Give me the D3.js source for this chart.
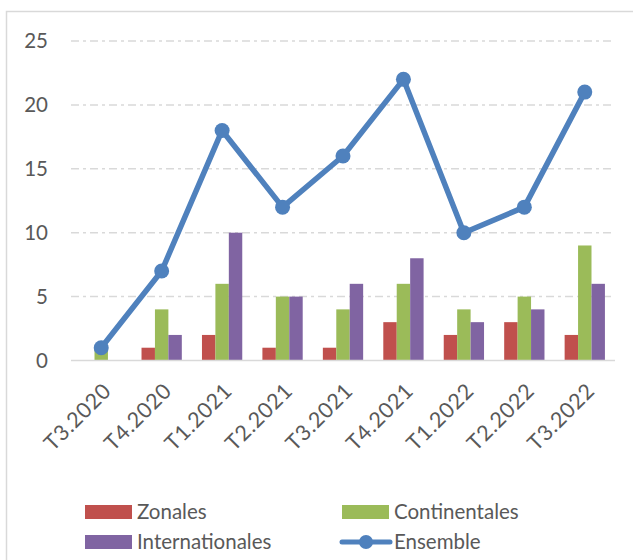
<!DOCTYPE html>
<html><head><meta charset="utf-8">
<script src="https://cdn.jsdelivr.net/npm/d3@7"></script>
<style>html,body{margin:0;padding:0;background:#fff;}svg{display:block;}</style>
</head><body>
<svg id="c" width="633" height="560"></svg>
<script>
const categories = ["T3.2020","T4.2020","T1.2021","T2.2021","T3.2021","T4.2021","T1.2022","T2.2022","T3.2022"];
const zonales = [0,1,2,1,1,3,2,3,2];
const continentales = [1,4,6,5,4,6,4,5,9];
const internationales = [0,2,10,5,6,8,3,4,6];
const ensemble = [1,7,18,12,16,22,10,12,21];
const yTicks = [0,5,10,15,20,25];
const barSeries = [
  {name:"Zonales", values:zonales, color:"#c0504d"},
  {name:"Continentales", values:continentales, color:"#9bbb59"},
  {name:"Internationales", values:internationales, color:"#8064a2"}
];
const lineColor = "#4f81bd";
const font = "Lato, 'Open Sans', sans-serif";
const textColor = "#595959";

const svg = d3.select("#c");
// chart border
svg.append("rect").attr("x",6.5).attr("y",11.5).attr("width",640).attr("height",560)
  .attr("fill","none").attr("stroke","#d9d9d9").attr("stroke-width",1.5);

const x = d3.scaleBand().domain(categories).range([71,615]);
const y = d3.scaleLinear().domain([0,25]).range([360.5,41]);
const groupW = x.bandwidth()/1.5;
const xs = d3.scaleBand().domain(barSeries.map(s=>s.name)).range([0,groupW]);

// gridlines
svg.append("g").selectAll("line").data(yTicks.filter(t=>t>0)).join("line")
  .attr("x1",71).attr("x2",615).attr("y1",d=>y(d)).attr("y2",d=>y(d))
  .attr("stroke","#d9d9d9").attr("stroke-width",1.5).attr("stroke-dasharray","8,4,3,4");

// y labels
svg.append("g").selectAll("text").data(yTicks).join("text")
  .attr("x",48).attr("y",d=>y(d)).attr("dy","0.35em").attr("text-anchor","end")
  .attr("font-family",font).attr("font-size",20.5).attr("fill",textColor).text(d=>d);

// bars
barSeries.forEach(s=>{
  svg.append("g").selectAll("rect").data(s.values.map((v,i)=>({v,c:categories[i]}))).join("rect")
    .attr("x",d=>x(d.c)+(x.bandwidth()-groupW)/2+xs(s.name))
    .attr("width",xs.bandwidth())
    .attr("y",d=>y(d.v)).attr("height",d=>y(0)-y(d.v))
    .attr("fill",s.color);
});

// baseline
svg.append("line").attr("x1",71).attr("x2",615).attr("y1",y(0)).attr("y2",y(0))
  .attr("stroke","#d9d9d9").attr("stroke-width",1.5);

// x labels
svg.append("g").selectAll("text").data(categories).join("text")
  .attr("transform",d=>`translate(${x(d)+x.bandwidth()/2+6},${387}) rotate(-45)`)
  .attr("text-anchor","end").attr("dy","0.35em").attr("letter-spacing","0.6")
  .attr("font-family",font).attr("font-size",21.5).attr("fill",textColor).text(d=>d);

// line
const cx = d=>x(d)+x.bandwidth()/2;
const line = d3.line().x((d,i)=>cx(categories[i])).y(d=>y(d));
svg.append("path").datum(ensemble).attr("d",line).attr("fill","none")
  .attr("stroke",lineColor).attr("stroke-width",5.5).attr("stroke-linejoin","round");
svg.append("g").selectAll("circle").data(ensemble).join("circle")
  .attr("cx",(d,i)=>cx(categories[i])).attr("cy",d=>y(d)).attr("r",7.5).attr("fill",lineColor);

// legend
const legendItems = [
  {name:"Zonales", color:"#c0504d", type:"bar", x:85, y:512},
  {name:"Continentales", color:"#9bbb59", type:"bar", x:342, y:512},
  {name:"Internationales", color:"#8064a2", type:"bar", x:85, y:542},
  {name:"Ensemble", color:lineColor, type:"line", x:342, y:542}
];
const lg = svg.append("g");
legendItems.forEach(it=>{
  if(it.type==="bar"){
    lg.append("rect").attr("x",it.x).attr("y",it.y-7).attr("width",47).attr("height",14).attr("fill",it.color);
  } else {
    lg.append("line").attr("x1",it.x).attr("x2",it.x+48).attr("y1",it.y).attr("y2",it.y)
      .attr("stroke",it.color).attr("stroke-width",5).attr("stroke-linecap","round");
    lg.append("circle").attr("cx",it.x+24).attr("cy",it.y).attr("r",7).attr("fill",it.color);
  }
  lg.append("text").attr("x",it.x+52).attr("y",it.y).attr("dy","0.35em")
    .attr("font-family",font).attr("font-size",20.5).attr("fill",textColor).text(it.name);
});
</script>
</body></html>
